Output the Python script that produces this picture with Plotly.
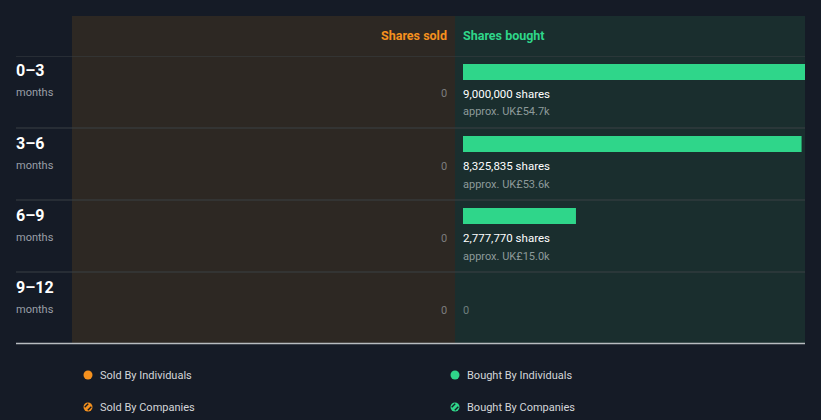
import plotly.graph_objects as go

W, H = 821, 420

# ---- data ----
periods = ["0–3", "3–6", "6–9", "9–12"]
period_sub = ["months", "months", "months", "months"]
shares_sold = [0, 0, 0, 0]
shares_bought = [9000000, 8325835, 2777770, 0]
bought_value = ["approx. UK£54.7k", "approx. UK£53.6k", "approx. UK£15.0k", ""]
legend_labels = ["Sold By Individuals", "Bought By Individuals", "Sold By Companies", "Bought By Companies"]

BG = "#151b26"
SOLD_BG = "#2d2823"
BOUGHT_BG = "#1a2e2e"
GREEN = "#2fd68a"
ORANGE = "#f5911e"
GRID = "#3b4044"
FONT = "Roboto"

def px(x):
    return x / W

def py(y):
    return 1 - y / H

n = len(periods)
rows = list(range(n))
BAR_W = 16 / 72
BAR_OFF = -28 / 72

fig = go.Figure()

# sold bars (all zero) on x axis 1
fig.add_trace(go.Bar(y=rows, x=shares_sold, orientation="h", marker_color=ORANGE,
                     marker_line_width=0,
                     width=BAR_W, offset=BAR_OFF, xaxis="x", yaxis="y",
                     hoverinfo="skip", showlegend=False))
# bought bars on x axis 2
fig.add_trace(go.Bar(y=rows, x=shares_bought, orientation="h", marker_color=GREEN,
                     width=BAR_W, offset=BAR_OFF, xaxis="x2", yaxis="y",
                     marker_line_width=0, hoverinfo="skip", showlegend=False))

shapes = []
annotations = []

# panel backgrounds
shapes.append(dict(type="rect", xref="paper", yref="paper", x0=px(72), x1=px(455),
                   y0=py(343), y1=py(16), fillcolor=SOLD_BG, line_width=0, layer="below"))
shapes.append(dict(type="rect", xref="paper", yref="paper", x0=px(455), x1=px(805),
                   y0=py(343), y1=py(16), fillcolor=BOUGHT_BG, line_width=0, layer="below"))

# row separators
for i in rows:
    shapes.append(dict(type="line", xref="paper", yref="y", x0=px(16), x1=px(805),
                       y0=i - 0.5, y1=i - 0.5, line=dict(color=GRID, width=1)))
# bottom axis line
shapes.append(dict(type="line", xref="paper", yref="paper", x0=px(16), x1=px(805),
                   y0=py(343.5), y1=py(343.5), line=dict(color="#b8bcc0", width=1.5)))

PAD = 2  # annotation internal padding compensation

# headers
annotations.append(dict(text="<b>Shares sold</b>", xref="paper", yref="paper", x=px(447 + PAD), y=py(35),
                        xanchor="right", yanchor="middle", showarrow=False,
                        font=dict(family=FONT, size=12.5, color=ORANGE)))
annotations.append(dict(text="<b>Shares bought</b>", xref="paper", yref="paper", x=px(463 - PAD), y=py(35),
                        xanchor="left", yanchor="middle", showarrow=False,
                        font=dict(family=FONT, size=12.5, color=GREEN)))

for i in rows:
    # row labels
    annotations.append(dict(text="<b>%s</b>" % periods[i], xref="paper", yref="y", x=px(16 - PAD), y=i,
                            yshift=36 - 15, xanchor="left", yanchor="middle", showarrow=False,
                            font=dict(family=FONT, size=16, color="#ffffff")))
    annotations.append(dict(text=period_sub[i], xref="paper", yref="y", x=px(16 - PAD), y=i,
                            yshift=36 - 37, xanchor="left", yanchor="middle", showarrow=False,
                            font=dict(family=FONT, size=11, color="#9a9fa6")))
    # sold zero
    annotations.append(dict(text=str(shares_sold[i]), xref="x", yref="y", x=0, y=i,
                            xshift=-8 + PAD, yshift=36 - 38, xanchor="right", yanchor="middle", showarrow=False,
                            font=dict(family=FONT, size=11, color="#7c7d7f")))
    # bought labels
    if shares_bought[i] > 0:
        annotations.append(dict(text="{:,} shares".format(shares_bought[i]), xref="x2", yref="y", x=0, y=i,
                                xshift=-PAD, yshift=36 - 38, xanchor="left", yanchor="middle", showarrow=False,
                                font=dict(family=FONT, size=11.5, color="#ffffff")))
        annotations.append(dict(text=bought_value[i], xref="x2", yref="y", x=0, y=i,
                                xshift=-PAD, yshift=36 - 56, xanchor="left", yanchor="middle", showarrow=False,
                                font=dict(family=FONT, size=11, color="#8d9a9a")))
    else:
        annotations.append(dict(text="0", xref="x2", yref="y", x=0, y=i,
                                xshift=-PAD, yshift=36 - 38, xanchor="left", yanchor="middle", showarrow=False,
                                font=dict(family=FONT, size=11, color="#6f7e7e")))

# legend
leg_pos = [(88, 375), (455, 375), (88, 407), (455, 407)]
leg_col = [ORANGE, GREEN, ORANGE, GREEN]
for k, lab in enumerate(legend_labels):
    cx, cy = leg_pos[k]
    r = 4.5
    shapes.append(dict(type="circle", xref="paper", yref="paper",
                       x0=px(cx - r), x1=px(cx + r), y0=py(cy + r), y1=py(cy - r),
                       fillcolor=leg_col[k], line=dict(width=0)))
    if k >= 2:
        # dark diagonal stripes inside the circle (hatched icon)
        for d in (-2.2, 2.2):
            half = 3.6 - abs(d) * 0.5
            ox, oy = cx + d / 1.414, cy + d / 1.414
            shapes.append(dict(type="line", xref="paper", yref="paper",
                               x0=px(ox - half / 1.414), y0=py(oy + half / 1.414),
                               x1=px(ox + half / 1.414), y1=py(oy - half / 1.414),
                               line=dict(color=BG, width=1.4)))
    annotations.append(dict(text=lab, xref="paper", yref="paper", x=px(cx + 12 - PAD), y=py(cy),
                            xanchor="left", yanchor="middle", showarrow=False,
                            font=dict(family=FONT, size=11, color="#d4d6d9")))

BOUGHT_MAX = 8.41e6

fig.update_layout(
    width=W, height=H,
    margin=dict(l=0, r=0, t=0, b=0),
    paper_bgcolor=BG, plot_bgcolor="rgba(0,0,0,0)",
    barmode="overlay",
    showlegend=False,
    xaxis=dict(domain=[px(72), px(455)], range=[BOUGHT_MAX, 0], visible=False, fixedrange=True),
    xaxis2=dict(domain=[px(463), px(805)], range=[0, BOUGHT_MAX], visible=False, fixedrange=True),
    yaxis=dict(domain=[py(344), py(56)], range=[n - 0.5, -0.5], visible=False, fixedrange=True),
    shapes=shapes,
    annotations=annotations,
    font=dict(family=FONT),
)

fig.write_html("out.html")
